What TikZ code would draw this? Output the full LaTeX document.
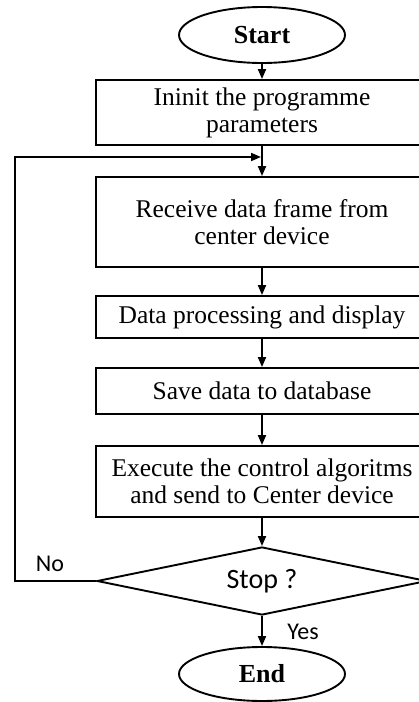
\documentclass[tikz,border=0pt]{standalone}
\usepackage{fontspec}
\setmainfont{Liberation Serif}
\newfontfamily\labelfont{Carlito}
\usetikzlibrary{shapes,arrows.meta,positioning}
\tikzstyle{terminal} = [draw, ellipse, line width=1.9pt, minimum width=166pt, minimum height=56pt, inner sep=0pt, font=\fontsize{26pt}{29pt}\selectfont\bfseries]
\tikzstyle{process} = [draw, rectangle, line width=1.9pt, minimum width=332pt, inner sep=0pt, align=center, font=\fontsize{25.5pt}{27pt}\selectfont]
\tikzstyle{decision} = [draw, diamond, aspect=4.85, line width=1.9pt, minimum width=330pt, minimum height=68pt, inner sep=0pt, font=\labelfont\fontsize{28pt}{30pt}\selectfont]
\tikzstyle{answer} = [inner sep=0pt, font=\labelfont\fontsize{24pt}{26pt}\selectfont]
\tikzstyle{flow} = [line width=1.9pt, -{Triangle[length=10pt,width=8pt]}]

\begin{document}
\begin{tikzpicture}[x=1pt,y=-1pt]
					\useasboundingbox (0,0) rectangle (419,702);
					\clip (0,0) rectangle (419,702);
					\node [terminal] (start) at (262,35) {Start};
					\node [process, minimum height=65pt] (init) at (262,112.5) {Ininit the programme\\parameters};
					\node [process, minimum height=90pt] (recv) at (262,222) {Receive data frame from\\center device};
					\node [process, minimum height=42pt] (proc) at (262,317) {Data processing and display};
					\node [process, minimum height=46pt] (save) at (262,391) {Save data to database};
					\node [process, minimum height=71pt] (exec) at (262,481.5) {Execute the control algoritms\\and send to Center device};
					\node [decision] (stop) at (262,581) {Stop ?};
					\node [terminal, minimum height=54pt] (end) at (262,674) {End};
					\node [answer] (no) at (50,564) {No};
					\node [answer] (yes) at (303,632) {Yes};
					\coordinate (corner) at (15,157);
					\coordinate (merge) at (262,157);
					\draw [flow] (start) -- (init);
					\draw [flow] (init) -- (recv);
					\draw [flow] (recv) -- (proc);
					\draw [flow] (proc) -- (save);
					\draw [flow] (save) -- (exec);
					\draw [flow] (exec) -- (stop);
					\draw [flow] (stop.south) -- (end);
					\draw [flow, shorten >=1pt] (stop.west) -| (corner) -- (merge);
\end{tikzpicture}
\end{document}
